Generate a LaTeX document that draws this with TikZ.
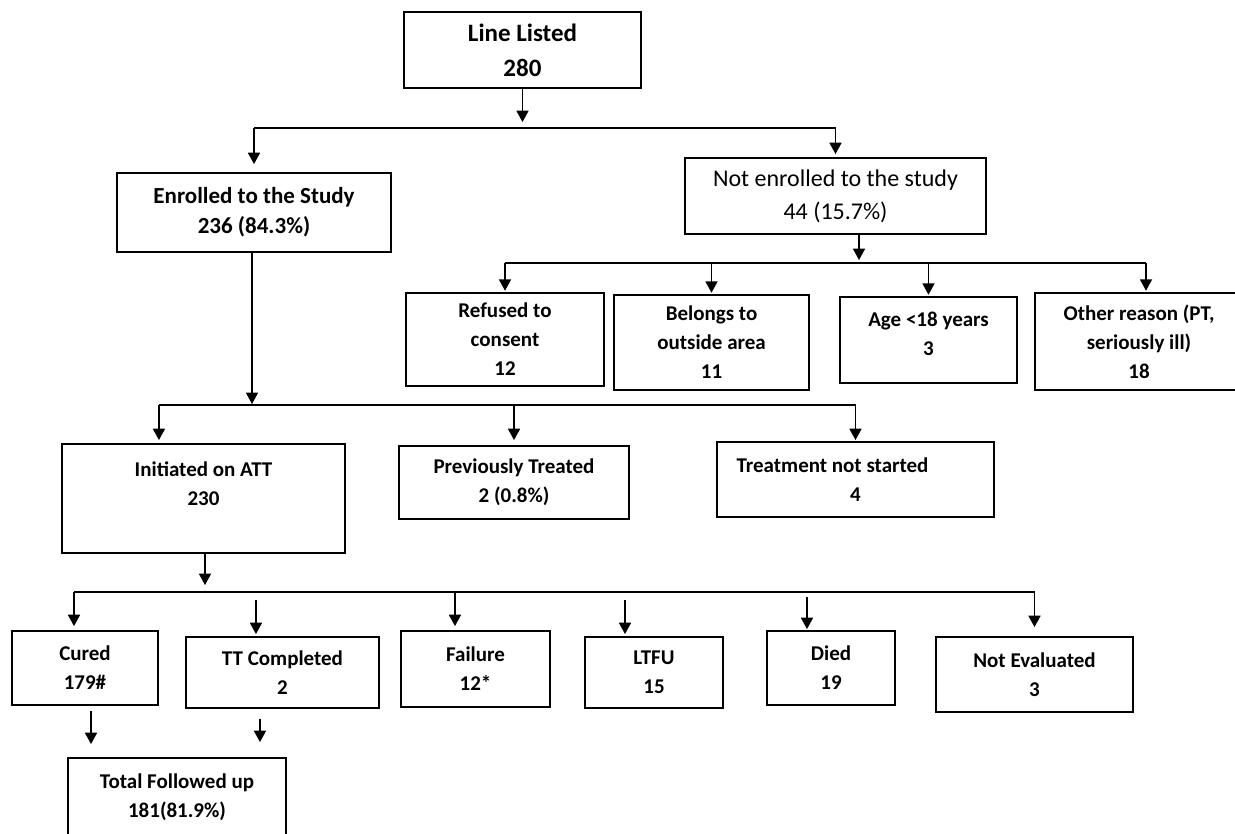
\documentclass[tikz,border=0pt]{standalone}
\usepackage{fontspec}
\setmainfont{Carlito}
\usetikzlibrary{arrows.meta,positioning}
\tikzset{>={Triangle[length=8.5pt,width=9pt]},
	box/.style={draw, line width=1.4pt, inner sep=0pt, align=center,
		font=\bfseries\fontsize{15.75}{21.75}\selectfont},
	boxsize/.style 2 args={minimum width=#1*0.75pt, minimum height=#2*0.75pt},
	bus/.style={line width=1.1pt},
	arr/.style={->, line width=1.1pt}}

\begin{document}
\begin{tikzpicture}[x=0.75pt, y=-0.75pt]
	\useasboundingbox (0,0) rectangle (1235,833);
	\clip (0,0) rectangle (1235,833);
	% boxes
	\node[box, boxsize={237}{76}, font=\bfseries\fontsize{18.75}{26.25}\selectfont]
		(listed) at (522.5,50) {Line Listed\\280};
	\node[box, boxsize={274}{79}, font=\bfseries\fontsize{17.25}{22.5}\selectfont]
		(enrolled) at (254,212.5) {Enrolled to the Study\\236 (84.3\%)};
	\node[box, boxsize={301}{76}, font=\mdseries\fontsize{18}{24.75}\selectfont]
		(notenr) at (835.5,196) {Not enrolled to the study\\44 (15.7\%)};
	\node[box, boxsize={198}{93}] (refused) at (505,339.5) {Refused to\\consent\\12};
	\node[box, boxsize={195}{95}] (belongs) at (711.5,342.5) {Belongs to\\outside area\\11};
	\node[box, boxsize={177}{86}] (age) at (928.5,340) {Age <18 years\\3\\[-12pt]~};
	\node[box, boxsize={208}{97}] (other) at (1139,341.5) {Other reason (PT,\\seriously ill)\\18};
	\node[box, boxsize={283}{109}] (initiated) at (203.5,498.5) {Initiated on ATT\\230\\~};
	\node[box, boxsize={230}{73}] (previously) at (514,482.5) {Previously Treated\\2 (0.8\%)};
	\node[box, boxsize={277}{75}] (notstarted) at (855.5,479.5)
		{Treatment not started\rule{34.5pt}{0pt}\\4};
	\node[box, boxsize={146}{74}] (cured) at (85,668) {Cured\\179\#};
	\node[box, boxsize={193}{71}] (ttc) at (282.5,672.5) {TT Completed\\2};
	\node[box, boxsize={149}{76}] (failure) at (475.5,669) {Failure\\12*};
	\node[box, boxsize={138}{71}] (ltfu) at (654,672.5) {LTFU\\15};
	\node[box, boxsize={128}{74}] (died) at (831,668) {Died\\19};
	\node[box, boxsize={197}{75}] (noteval) at (1034.5,674.5) {Not Evaluated\\3};
	\node[box, boxsize={218}{78}] (total) at (177,797) {Total Followed up\\181(81.9\%)};
	% branch points
	\coordinate (b1) at (522.5,128);
	\coordinate (b2) at (859,263);
	\coordinate (b3) at (252,405);
	\coordinate (b4) at (205,592);
	% first split
	\draw[arr, shorten >=4.5pt] (listed) -- (b1);
	\draw[bus] (enrolled |- b1) -- (notenr |- b1);
	\draw[arr, shorten >=6pt] (enrolled |- b1) -- (enrolled);
	\draw[arr, shorten >=2.25pt] (notenr |- b1) -- (notenr);
	% reasons for not enrolling
	\draw[arr, shorten >=2.25pt] (notenr.south -| b2) -- (b2);
	\draw[bus] (refused |- b2) -- ([xshift=5.25pt]other.north |- b2);
	\foreach \nd in {refused, belongs, age}
		\draw[arr, shorten >=1pt] (\nd |- b2) -- (\nd);
	\draw[arr, shorten >=1pt] ([xshift=5.25pt]other.north |- b2) -- ([xshift=5.25pt]other.north);
	% enrolled
	\draw[arr, shorten >=0.75pt] (enrolled.south -| b3) -- (b3);
	\draw[bus] ([xshift=-33.4pt]initiated.north |- b3) -- (notstarted |- b3);
	\draw[arr, shorten >=2.25pt] ([xshift=-33.4pt]initiated.north |- b3) -- ([xshift=-33.4pt]initiated.north);
	\draw[arr, shorten >=3.75pt] (previously |- b3) -- (previously);
	\draw[arr, shorten >=0.75pt] (notstarted |- b3) -- (notstarted);
	% outcomes
	\draw[arr, shorten >=5.25pt] (initiated.south -| b4) -- (b4);
	\draw[bus] ([xshift=-8.25pt]cured.north |- b4) -- (noteval |- b4);
	\foreach \nd/\dx/\ga/\gb in {cured/-8.25/0/3, ttc/-19.9/6/1.5, failure/-15.4/0/3,
		ltfu/-21.75/6/1.5, died/-18/3.75/0.75, noteval/0/0.75/6.75}
		\draw[arr, shorten <=\ga pt, shorten >=\gb pt]
			([xshift=\dx pt]\nd.north |- b4) -- ([xshift=\dx pt]\nd.north);
	% followed up
	\draw[arr, shorten <=3.75pt, shorten >=9.75pt]
		([xshift=4.5pt]cured.south) -- ([xshift=4.5pt]cured.south |- total.north);
	\draw[arr, shorten <=7.5pt, shorten >=11.25pt]
		([xshift=-16.9pt]ttc.south) -- ([xshift=-16.9pt]ttc.south |- total.north);
\end{tikzpicture}
\end{document}
